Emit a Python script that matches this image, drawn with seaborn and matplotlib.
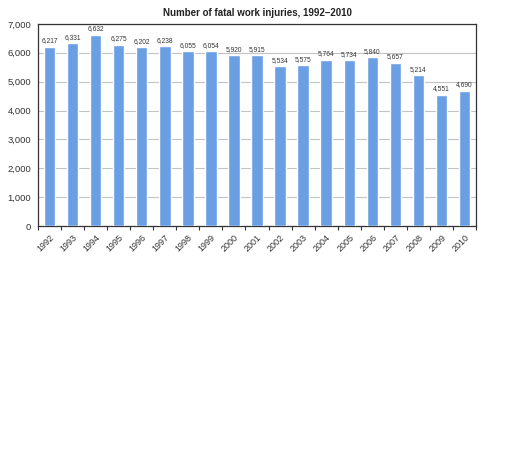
import matplotlib
matplotlib.use("Agg")
import matplotlib.pyplot as plt
import seaborn as sns
import pandas as pd
import numpy as np

years = ["1992", "1993", "1994", "1995", "1996", "1997", "1998", "1999", "2000", "2001",
         "2002", "2003", "2004", "2005", "2006", "2007", "2008", "2009", "2010"]
fatalities = [6217, 6331, 6632, 6275, 6202, 6238, 6055, 6054, 5920, 5915,
              5534, 5575, 5764, 5734, 5840, 5657, 5214, 4551, 4690]
yticks = [0, 1000, 2000, 3000, 4000, 5000, 6000, 7000]

sns.set_theme(style="white")
plt.rcParams['font.family'] = ['Liberation Sans', 'DejaVu Sans']

df = pd.DataFrame({"year": years, "value": fatalities})

fig = plt.figure(figsize=(5.12, 4.69), dpi=100)
ax = fig.add_axes([0.074, 0.518, 0.856, 0.431])

sns.barplot(data=df, x="year", y="value", color="#6a9fe3", saturation=1,
            width=0.5, ax=ax, zorder=3)

ax.set_ylim(0, 7000)
ax.set_xlim(-0.5, len(years) - 0.5)
ax.set_yticks(yticks)
ax.set_yticklabels([f"{v:,}" for v in yticks], fontsize=6.8, color="#333333")
ax.yaxis.grid(True, color="#c2c2c2", linewidth=0.8, zorder=0)
ax.set_axisbelow(True)

ax.set_xticks(range(len(years)))
ax.set_xticklabels(years, rotation=45, ha="right", rotation_mode="anchor",
                   fontsize=6.5, color="#333333")
ax.tick_params(axis="x", which="major", length=0, pad=5)
ax.set_xticks(np.arange(-0.5, len(years), 1.0), minor=True)
ax.tick_params(axis="x", which="minor", length=3, width=0.8, color="#333333", direction="out")
ax.tick_params(axis="y", length=4, width=0.8, color="#333333", direction="out", pad=1)
ax.tick_params(axis="x", which="minor", bottom=True)

for sp in ax.spines.values():
    sp.set_visible(True)
    sp.set_color("#333333")
    sp.set_linewidth(0.9)

for i, v in enumerate(fatalities):
    ax.text(i, v + 80, f"{v:,}", ha="center", va="bottom", fontsize=4.8, color="#333333")

ax.set_xlabel("")
ax.set_ylabel("")
ax.set_title("Number of fatal work injuries, 1992\u20132010", fontsize=7, fontweight="bold",
             color="#222222", pad=6)

fig.savefig("out.png", dpi=100)
